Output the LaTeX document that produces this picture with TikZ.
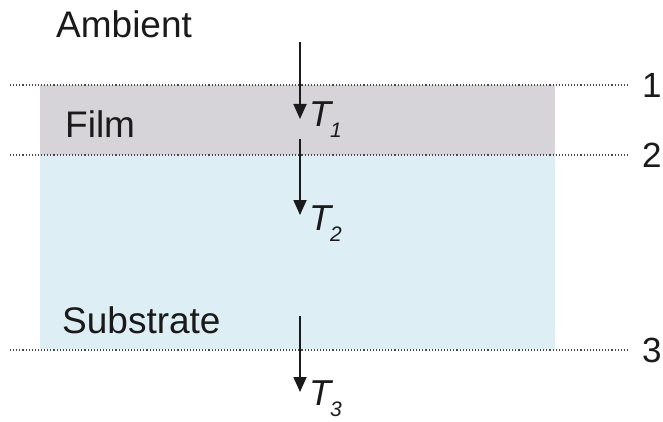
\documentclass[tikz,border=0pt]{standalone}
\usepackage{fontspec}
\setmainfont{Liberation Sans}
\usetikzlibrary{arrows.meta}
\definecolor{filmgray}{HTML}{D6D4D9}
\definecolor{subblue}{HTML}{DDEEF4}
\definecolor{ink}{HTML}{1A1A1A}
\tikzset{
  lbl/.style={inner sep=0pt, anchor=base west, text=ink, font=\fontsize{37}{42}\selectfont},
  num/.style={inner sep=0pt, anchor=west, text=ink, font=\fontsize{35}{40}\selectfont},
  tlbl/.style={inner sep=0pt, anchor=base west, text=ink, font=\fontsize{36}{40}\selectfont\itshape},
  iface/.style={draw=ink!80, line width=1.1pt, dotted},
  flux/.style={draw=ink, line width=1.8pt, -{Triangle[length=15pt,width=13pt]}},
}
\newcommand{\tsub}[1]{T\kern-1pt\raisebox{-11pt}{\fontsize{21}{21}\selectfont #1}}
\begin{document}
\begin{tikzpicture}[x=1pt,y=-1pt]
\useasboundingbox (0,0) rectangle (663,422);
% layers
\fill[filmgray] (40,85) rectangle (555,155);
\fill[subblue] (40,155) rectangle (555,349);
% interfaces
\coordinate (l1s) at (10,85);  \coordinate (l1e) at (628,85);
\coordinate (l2s) at (10,155); \coordinate (l2e) at (628,155);
\coordinate (l3s) at (10,350); \coordinate (l3e) at (628,350);
\draw[iface] (l1s) -- (l1e);
\draw[iface] (l2s) -- (l2e);
\draw[iface] (l3s) -- (l3e);
\node[num] (n1) at (642,85) {1};
\node[num] (n2) at (642,155) {2};
\node[num] (n3) at (642,350) {3};
% labels
\node[lbl] (amb) at (56,38) {Ambient};
\node[lbl] (film) at (65,138) {Film};
\node[lbl] (sub) at (62,333) {Substrate};
% arrows
\coordinate (a1s) at (300,42);  \coordinate (a1e) at (300,119);
\coordinate (a2s) at (300,139); \coordinate (a2e) at (300,215);
\coordinate (a3s) at (300,316); \coordinate (a3e) at (300,392);
\draw[flux] (a1s) -- (a1e);
\draw[flux] (a2s) -- (a2e);
\draw[flux] (a3s) -- (a3e);
\node[tlbl] (t1) at (309,127) {\tsub{1}};
\node[tlbl] (t2) at (309,230) {\tsub{2}};
\node[tlbl] (t3) at (309,405) {\tsub{3}};
\end{tikzpicture}
\end{document}
